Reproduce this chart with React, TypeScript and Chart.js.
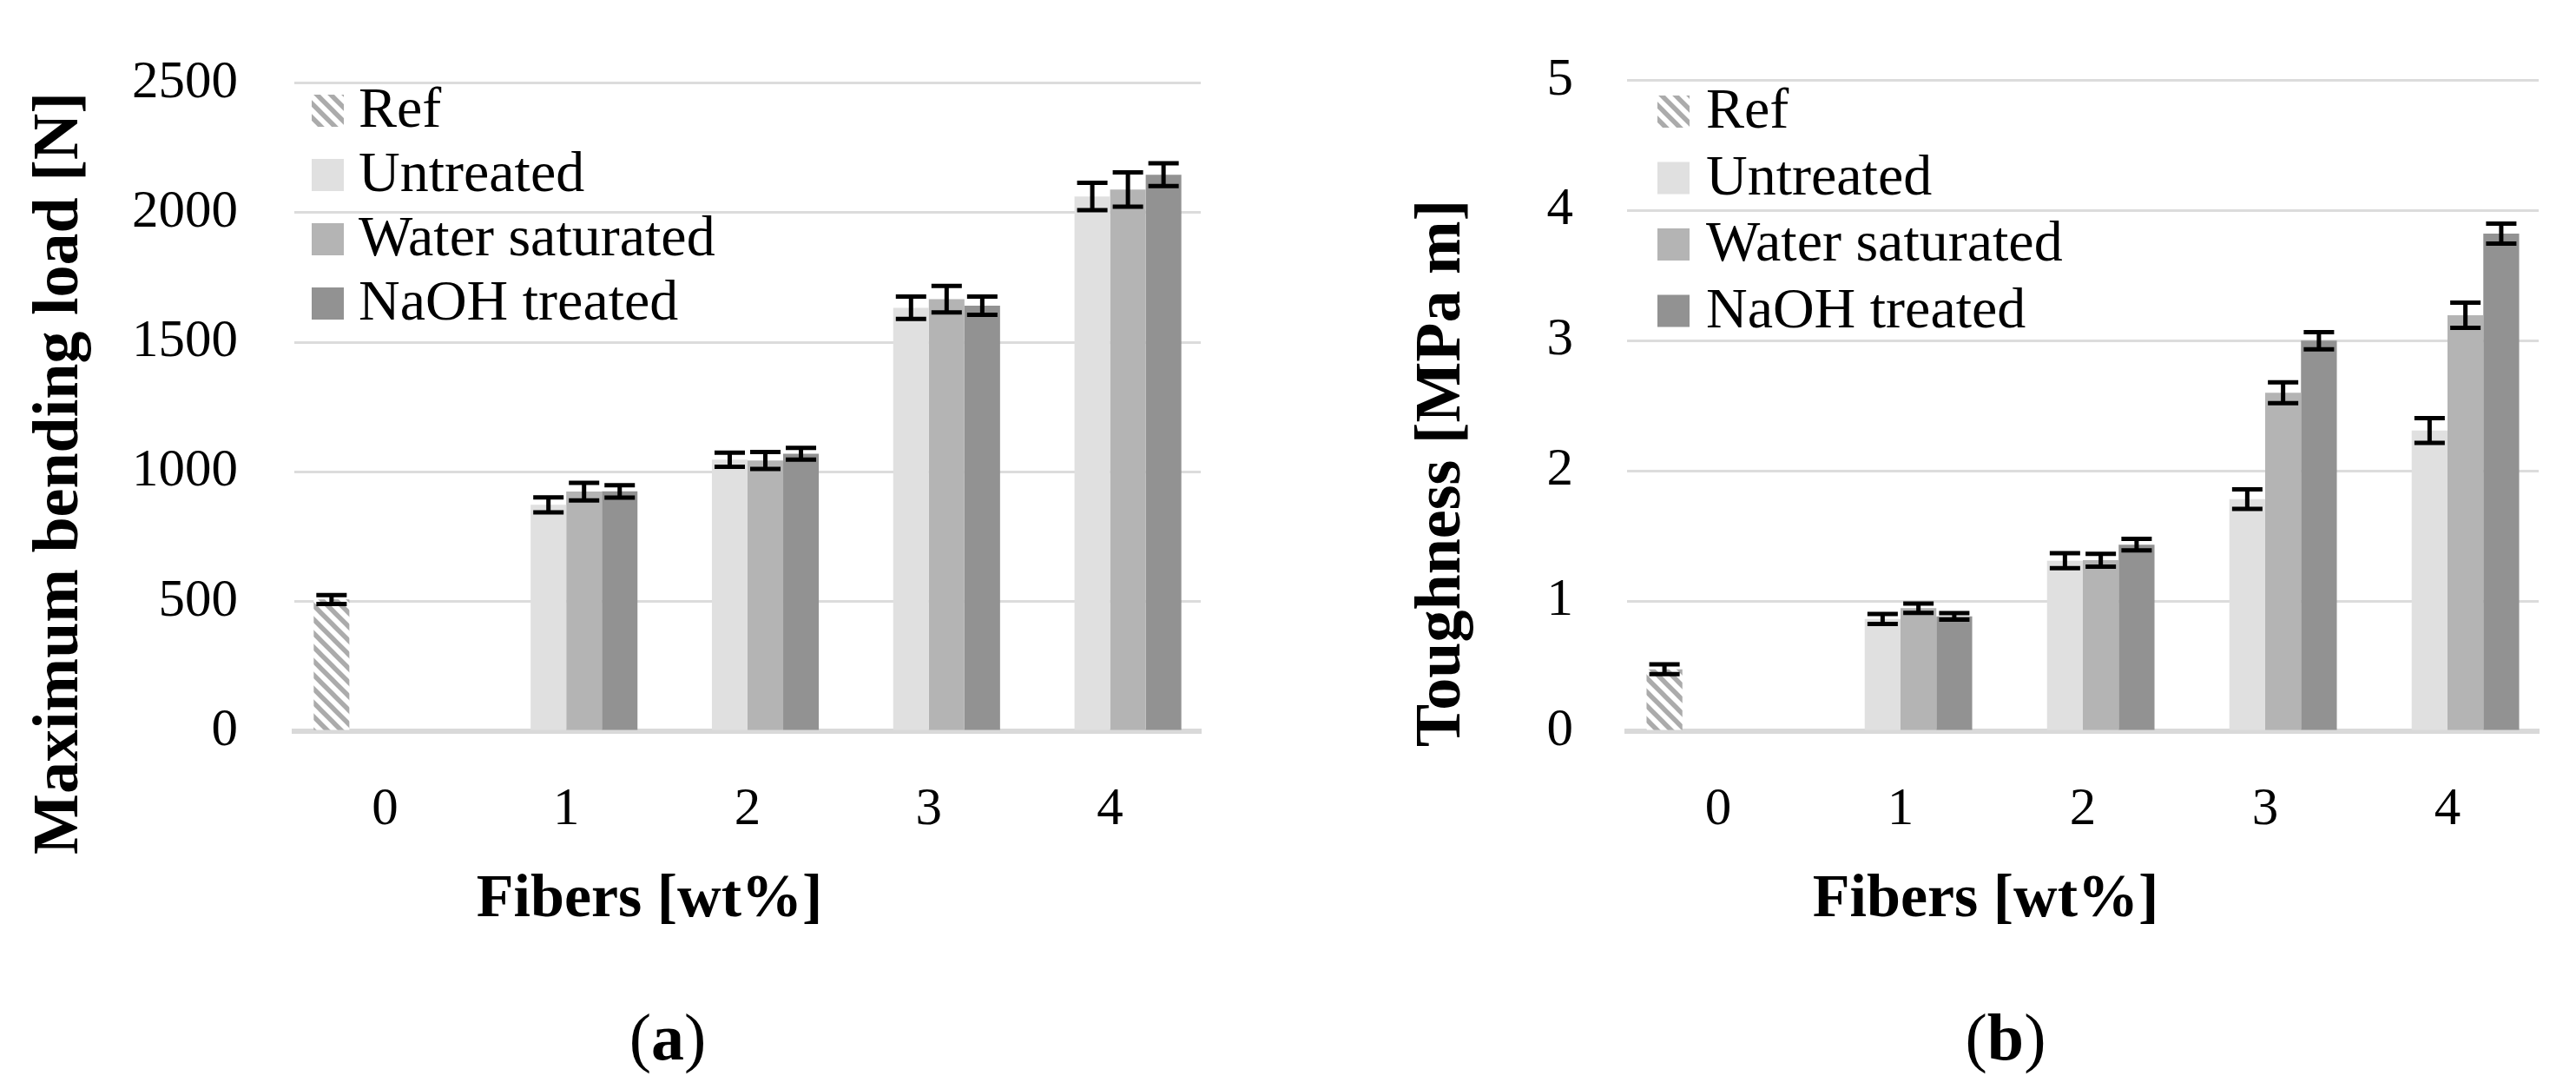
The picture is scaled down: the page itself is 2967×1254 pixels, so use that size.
import React, { useEffect, useRef } from 'react';
import { Chart, registerables } from 'chart.js';

Chart.register(...registerables);

// ---------- data ----------
const categories = ['0', '1', '2', '3', '4'];
const seriesNames = ['Ref', 'Untreated', 'Water saturated', 'NaOH treated'];
const seriesColors = ['hatch', '#e0e0e0', '#b4b4b4', '#929292'];

// (a) Maximum bending load [N]
const loadRef = [508, null, null, null, null];
const loadRefErr = [17, null, null, null, null];
const loadUntreated = [null, 873, 1047, 1633, 2062];
const loadUntreatedErr = [null, 29, 27, 43, 53];
const loadWater = [null, 924, 1044, 1666, 2089];
const loadWaterErr = [null, 34, 33, 51, 66];
const loadNaOH = [null, 925, 1070, 1641, 2146];
const loadNaOHErr = [null, 24, 23, 35, 44];
const loadAxis = { min: 0, max: 2500, step: 500 };

// (b) Toughness [MPa m]
const toughRef = [0.476, null, null, null, null];
const toughRefErr = [0.038, null, null, null, null];
const toughUntreated = [null, 0.862, 1.31, 1.783, 2.31];
const toughUntreatedErr = [null, 0.038, 0.057, 0.075, 0.095];
const toughWater = [null, 0.945, 1.314, 2.6, 3.195];
const toughWaterErr = [null, 0.036, 0.049, 0.08, 0.097];
const toughNaOH = [null, 0.883, 1.433, 3.0, 3.823];
const toughNaOHErr = [null, 0.025, 0.044, 0.066, 0.077];
const toughAxis = { min: 0, max: 5, step: 1 };

// ---------- layout ----------
type Num = number | null;
type Panel = {
  left: number;
  width: number;
  chartLeft: number;
  chartRight: number;
  tickPad: number;
  values: Num[][];
  errors: Num[][];
  axis: { min: number; max: number; step: number };
  yTitle: string;
  yTitleX: number;
  xTitle: string;
  xTitleCX: number;
  sub: string;
  subCX: number;
  legendBoxX: number;
  legendTextX: number;
  legendBase: number;
  legendStep: number;
};

const H = 1254;
const TOP = 83;
const BOTTOM = 842;

const panels: Panel[] = [
  {
    left: 0,
    width: 1484,
    chartLeft: 339,
    chartRight: 1383,
    tickPad: 65,
    values: [loadRef, loadUntreated, loadWater, loadNaOH],
    errors: [loadRefErr, loadUntreatedErr, loadWaterErr, loadNaOHErr],
    axis: loadAxis,
    yTitle: 'Maximum bending load [N]',
    yTitleX: 89,
    xTitle: 'Fibers [wt%]',
    xTitleCX: 748,
    sub: 'a',
    subCX: 769,
    legendBoxX: 359,
    legendTextX: 413,
    legendBase: 146,
    legendStep: 74,
  },
  {
    left: 1484,
    width: 1483,
    chartLeft: 390,
    chartRight: 1440,
    tickPad: 62,
    values: [toughRef, toughUntreated, toughWater, toughNaOH],
    errors: [toughRefErr, toughUntreatedErr, toughWaterErr, toughNaOHErr],
    axis: toughAxis,
    yTitle: 'Toughness [MPa m]',
    yTitleX: 197,
    xTitle: 'Fibers [wt%]',
    xTitleCX: 803,
    sub: 'b',
    subCX: 826,
    legendBoxX: 425,
    legendTextX: 481,
    legendBase: 147,
    legendStep: 76.5,
  },
];

const SERIF = '"Liberation Serif", "Times New Roman", serif';

function makeHatch(): CanvasPattern | string {
  const c = document.createElement('canvas');
  c.width = 16;
  c.height = 16;
  const g = c.getContext('2d');
  if (!g) return '#aaaaaa';
  g.fillStyle = '#ffffff';
  g.fillRect(0, 0, 16, 16);
  g.strokeStyle = '#ababab';
  g.lineWidth = 5.5;
  g.beginPath();
  for (let k = -1; k <= 1; k++) {
    g.moveTo(k * 16 - 2, -2);
    g.lineTo(k * 16 + 18, 18);
  }
  g.stroke();
  return g.createPattern(c, 'repeat') || '#aaaaaa';
}

function overlayPlugin(p: Panel) {
  return {
    id: 'overlay',
    afterDatasetsDraw(chart: any) {
      const ctx: CanvasRenderingContext2D = chart.ctx;
      const ys = chart.scales.y;
      ctx.save();
      ctx.strokeStyle = '#000000';
      ctx.lineWidth = 5;
      ctx.lineCap = 'butt';
      p.values.forEach((vals, i) => {
        const meta = chart.getDatasetMeta(i);
        vals.forEach((v, j) => {
          const e = p.errors[i][j];
          if (v == null || e == null) return;
          const el: any = meta.data[j];
          if (!el) return;
          const x = el.x;
          const t = ys.getPixelForValue(v + e);
          const b = ys.getPixelForValue(v - e);
          const hw = 17.5;
          ctx.beginPath();
          ctx.moveTo(x, t);
          ctx.lineTo(x, b);
          ctx.moveTo(x - hw, t);
          ctx.lineTo(x + hw, t);
          ctx.moveTo(x - hw, b);
          ctx.lineTo(x + hw, b);
          ctx.stroke();
        });
      });
      ctx.restore();
    },
    afterDraw(chart: any) {
      const ctx: CanvasRenderingContext2D = chart.ctx;
      ctx.save();
      // legend
      ctx.font = `66px ${SERIF}`;
      ctx.textAlign = 'left';
      ctx.textBaseline = 'alphabetic';
      chart.data.datasets.forEach((ds: any, i: number) => {
        const base = p.legendBase + i * p.legendStep;
        ctx.fillStyle = ds.backgroundColor;
        ctx.fillRect(p.legendBoxX, base - 37, 37, 37);
        ctx.fillStyle = '#000000';
        ctx.fillText(ds.label, p.legendTextX, base);
      });
      // y title
      ctx.save();
      ctx.font = `bold 74px ${SERIF}`;
      ctx.fillStyle = '#000000';
      ctx.translate(p.yTitleX, 545);
      ctx.rotate(-Math.PI / 2);
      ctx.textAlign = 'center';
      ctx.textBaseline = 'alphabetic';
      ctx.fillText(p.yTitle, 0, 0);
      ctx.restore();
      // x title
      ctx.font = `bold 70px ${SERIF}`;
      ctx.fillStyle = '#000000';
      ctx.textAlign = 'center';
      ctx.textBaseline = 'alphabetic';
      ctx.fillText(p.xTitle, p.xTitleCX, 1055);
      // sub label "(a)" / "(b)"
      const reg = `76px ${SERIF}`;
      const bold = `bold 76px ${SERIF}`;
      ctx.font = reg;
      const wo = ctx.measureText('(').width;
      const wc = ctx.measureText(')').width;
      ctx.font = bold;
      const wl = ctx.measureText(p.sub).width;
      let x = p.subCX - (wo + wl + wc) / 2;
      ctx.textAlign = 'left';
      ctx.font = reg;
      ctx.fillText('(', x, 1220);
      x += wo;
      ctx.font = bold;
      ctx.fillText(p.sub, x, 1220);
      x += wl;
      ctx.font = reg;
      ctx.fillText(')', x, 1220);
      ctx.restore();
    },
  };
}

function ChartPanel({ p }: { p: Panel }) {
  const ref = useRef<HTMLCanvasElement | null>(null);
  useEffect(() => {
    if (!ref.current) return;
    const hatch = makeHatch();
    const tickFont = { family: SERIF, size: 61, lineHeight: 1 };
    const chart = new Chart(ref.current, {
      type: 'bar',
      data: {
        labels: categories,
        datasets: seriesNames.map((name, i) => ({
          label: name,
          data: p.values[i] as any,
          backgroundColor: seriesColors[i] === 'hatch' ? (hatch as any) : seriesColors[i],
          borderWidth: 0,
          categoryPercentage: 0.786,
          barPercentage: 1,
        })),
      },
      options: {
        responsive: false,
        animation: false,
        devicePixelRatio: 1,
        events: [],
        layout: { padding: { top: TOP, bottom: 0, left: 0, right: p.width - p.chartRight } },
        plugins: {
          legend: { display: false },
          tooltip: { enabled: false },
          title: { display: false },
        },
        scales: {
          x: {
            type: 'category',
            grid: { display: false, drawTicks: false },
            border: { display: true, color: '#d9d9d9', width: 6 },
            ticks: { padding: 60, font: tickFont, color: '#000000', maxRotation: 0, autoSkip: false },
            afterFit: (s: any) => {
              s.height = H - BOTTOM;
            },
          },
          y: {
            type: 'linear',
            min: p.axis.min,
            max: p.axis.max,
            ticks: {
              stepSize: p.axis.step,
              padding: p.tickPad,
              font: tickFont,
              color: '#000000',
              callback: (v: any) => String(v),
            },
            grid: { color: '#dcdcdc', lineWidth: 3, drawTicks: false },
            border: { display: false },
            afterFit: (s: any) => {
              s.width = p.chartLeft;
            },
          },
        },
      } as any,
      plugins: [overlayPlugin(p) as any],
    });
    return () => chart.destroy();
  }, [p]);
  return (
    <canvas
      ref={ref}
      width={p.width}
      height={H}
      style={{ position: 'absolute', left: p.left, top: 0, width: p.width, height: H }}
    />
  );
}

export default function App() {
  useEffect(() => {
    document.body.style.margin = '0';
    document.body.style.background = '#ffffff';
  }, []);
  return (
    <div style={{ position: 'relative', width: 2967, height: H, background: '#ffffff' }}>
      {panels.map((p, i) => (
        <ChartPanel key={i} p={p} />
      ))}
    </div>
  );
}
